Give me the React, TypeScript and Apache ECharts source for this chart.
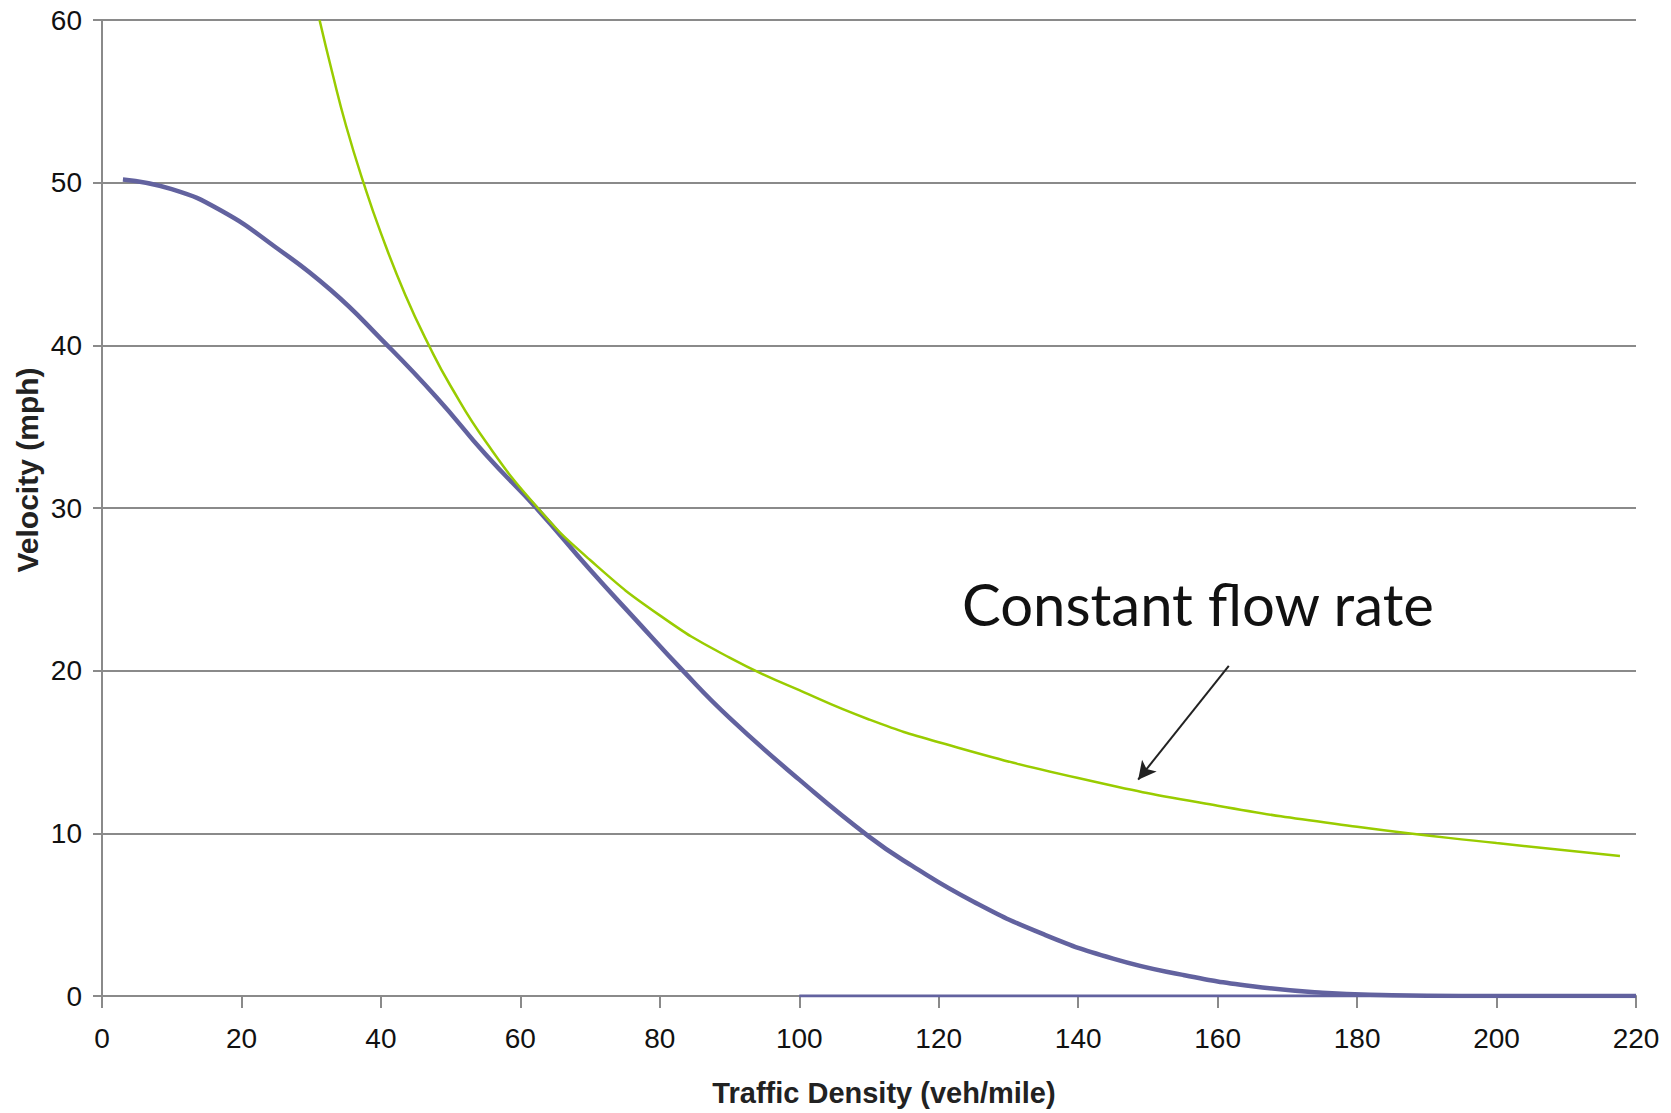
import React, { useEffect, useRef } from "react";
import * as echarts from "echarts";

// Velocity–density curve (veh/mile, mph)
const speedCurve: [number, number][] = [
  [3, 50.2], [10, 49.6], [17, 48.3], [25, 46.0], [32.8, 43.4], [40, 40.4],
  [48, 36.8], [55, 33.3], [62.5, 29.9], [70, 26.2], [76.4, 23.2], [83.3, 20.0],
  [90, 17.1], [100, 13.3], [110, 9.8], [116.2, 8.0], [125, 5.8], [135, 3.8],
  [145, 2.3], [155, 1.3], [165, 0.6], [175, 0.2], [185, 0.05], [195, 0], [220, 0],
];

// Baseline segment drawn in the curve colour along the x-axis
const speedBaseline: [number, number][] = [[100, 0], [220, 0]];

// Constant flow rate curve
const flowCurve: [number, number][] = [
  [31.2, 60], [33, 56.8], [35, 53.5], [37.5, 50], [40, 46.9], [43.5, 43.1],
  [47, 39.9], [50, 37.5], [55, 34.1], [62.5, 30], [70, 26.8], [80, 23.4],
  [90, 20.8], [100, 18.8], [110, 17], [120, 15.6], [140, 13.4], [160, 11.7],
  [180, 10.4], [200, 9.4], [217.7, 8.6],
];

// Annotation arrow (data coordinates)
const arrowFrom: [number, number] = [161.6, 20.3];
const arrowTo: [number, number] = [148.6, 13.3];

const xTitle = "Traffic Density (veh/mile)";
const yTitle = "Velocity (mph)";
const annotation = "Constant flow rate";

const GRID = "#8a8a8a";
const BLUE = "#62629f";
const GREEN = "#99cc00";
const TICK_FONT = "'Liberation Sans', Arial, sans-serif";

export default function App() {
  const ref = useRef<HTMLDivElement>(null);

  useEffect(() => {
    if (!ref.current) return;
    const chart = echarts.init(ref.current, undefined, { renderer: "svg" });
    chart.setOption({
      animation: false,
      backgroundColor: "#ffffff",
      grid: { left: 102, top: 20, width: 1534, height: 976, containLabel: false },
      xAxis: {
        type: "value",
        min: 0,
        max: 220,
        interval: 20,
        axisLine: { show: true, lineStyle: { color: GRID, width: 2 } },
        axisTick: { show: true, length: 12, lineStyle: { color: GRID, width: 2 } },
        axisLabel: { color: "#111", fontSize: 28, fontFamily: TICK_FONT, margin: 28 },
        splitLine: { show: false },
      },
      yAxis: {
        type: "value",
        min: 0,
        max: 60,
        interval: 10,
        axisLine: { show: true, lineStyle: { color: GRID, width: 2 } },
        axisTick: { show: true, length: 9, lineStyle: { color: GRID, width: 2 } },
        axisLabel: { color: "#111", fontSize: 28, fontFamily: TICK_FONT, margin: 20 },
        splitLine: { show: true, lineStyle: { color: GRID, width: 2 } },
      },
      graphic: [
        {
          type: "text",
          x: 884,
          y: 1093,
          style: {
            text: xTitle,
            font: "bold 29px 'Liberation Sans', Arial, sans-serif",
            fill: "#222",
            align: "center",
            verticalAlign: "middle",
          },
        },
        {
          type: "text",
          x: 27,
          y: 470,
          rotation: Math.PI / 2,
          style: {
            text: yTitle,
            font: "bold 30px 'Liberation Sans', Arial, sans-serif",
            fill: "#222",
            align: "center",
            verticalAlign: "middle",
          },
        },
        {
          type: "text",
          x: 962,
          y: 603,
          style: {
            text: annotation,
            font: "58px Lato, 'Liberation Sans', sans-serif",
            fill: "#111",
            align: "left",
            verticalAlign: "middle",
          },
        },
      ],
      series: [
        {
          type: "line",
          data: speedBaseline,
          showSymbol: false,
          lineStyle: { color: BLUE, width: 3 },
          z: 3,
        },
        {
          type: "line",
          data: speedCurve,
          smooth: true,
          showSymbol: false,
          lineStyle: { color: BLUE, width: 4.5 },
          z: 4,
        },
        {
          type: "line",
          data: flowCurve,
          smooth: true,
          showSymbol: false,
          lineStyle: { color: GREEN, width: 2.5 },
          z: 5,
          markLine: {
            silent: true,
            symbol: ["none", "arrow"],
            symbolSize: [14, 18],
            label: { show: false },
            lineStyle: { color: "#222", width: 2, type: "solid" },
            data: [[{ coord: arrowFrom }, { coord: arrowTo }]],
          },
        },
      ],
    });
    return () => chart.dispose();
  }, []);

  return (
    <div
      ref={ref}
      style={{ position: "fixed", left: 0, top: 0, width: 1671, height: 1113 }}
    />
  );
}
